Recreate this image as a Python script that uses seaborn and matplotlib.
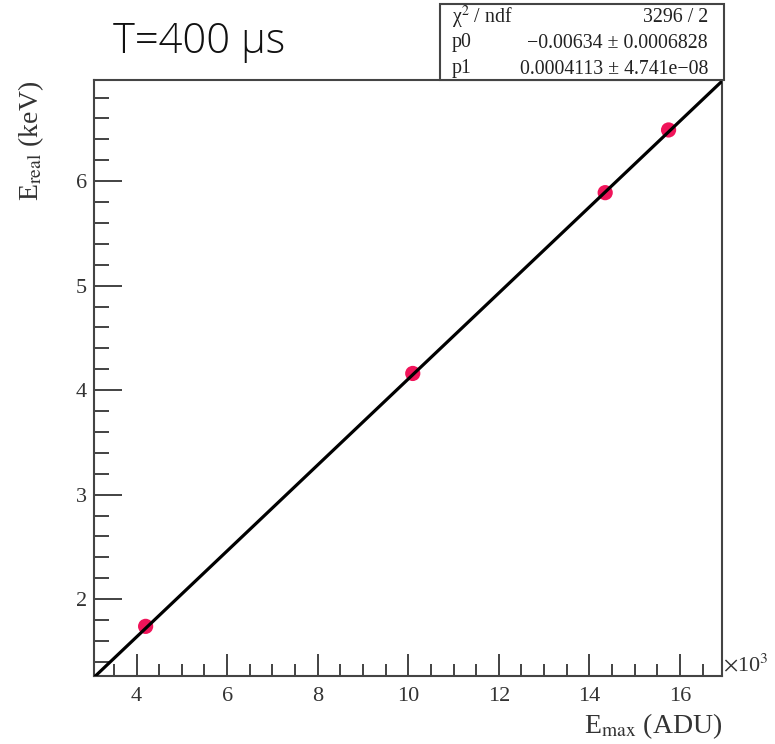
import numpy as np
import pandas as pd
import matplotlib
matplotlib.use("Agg")
import matplotlib.pyplot as plt
from matplotlib.ticker import MultipleLocator, FuncFormatter
from matplotlib.patches import Rectangle
import seaborn as sns

# Data (E_max in ADU, E_real in keV)
e_max = [4200, 10100, 14350, 15750]
e_real = [1.74, 4.16, 5.89, 6.49]
p0 = -0.00634
p1 = 0.0004113
stats_labels = ["\u03c7$^2$ / ndf", "p0", "p1"]
stats_values = ["3296 / 2", "\u22120.00634 \u00b1 0.0006828", "0.0004113 \u00b1 4.741e\u221208"]
title = "T=400 \u00b5s"

sns.set_theme(style="white")
plt.rcParams["font.family"] = ["Liberation Serif", "DejaVu Serif"]
plt.rcParams["mathtext.fontset"] = "stix"

fig = plt.figure(figsize=(7.75, 7.44), dpi=100)
ax = fig.add_axes([94/775, 1-676/744, (722-94)/775, (676-80)/744])

xmin, xmax = 3060, 16930
ymin, ymax = 1.265, 6.968

df = pd.DataFrame({"x": e_max, "y": e_real})
xs = np.linspace(xmin, xmax, 200)
fit = pd.DataFrame({"x": xs, "y": p0 + p1 * xs})

sns.lineplot(data=fit, x="x", y="y", ax=ax, color="black", linewidth=2.3, zorder=3)
sns.scatterplot(data=df, x="x", y="y", ax=ax, color="#f0145a", s=120,
                edgecolor="none", zorder=2)

ax.set_xlim(xmin, xmax)
ax.set_ylim(ymin, ymax)

ax.xaxis.set_major_locator(MultipleLocator(2000))
ax.xaxis.set_minor_locator(MultipleLocator(500))
ax.yaxis.set_major_locator(MultipleLocator(1))
ax.yaxis.set_minor_locator(MultipleLocator(0.2))
ax.xaxis.set_major_formatter(FuncFormatter(lambda v, p: f"{v/1000:g}"))
ax.yaxis.set_major_formatter(FuncFormatter(lambda v, p: f"{v:g}"))

ax.tick_params(axis="both", which="both", direction="in", color="#222222",
               labelsize=16, top=False, right=False, bottom=True, left=True)
ax.tick_params(axis="x", which="major", length=16, width=1.2, pad=8)
ax.tick_params(axis="x", which="minor", length=9, width=1.2)
ax.tick_params(axis="y", which="major", length=20, width=1.2, pad=5)
ax.tick_params(axis="y", which="minor", length=11, width=1.2)
for lab in ax.get_xticklabels() + ax.get_yticklabels():
    lab.set_color("#333333")

for s in ax.spines.values():
    s.set_color("#444444")
    s.set_linewidth(1.5)

ax.set_xlabel("")
ax.set_ylabel("")
fig.text(722/775, 1-726/744, r"E$_{\mathrm{max}}$ (ADU)", ha="right", va="center",
         fontsize=20, color="#333333")
fig.text(31/775, 1-141/744, r"E$_{\mathrm{real}}$ (keV)", ha="center", va="center",
         rotation=90, fontsize=20, color="#333333")
fig.text(723/775, 1-665/744, r"$\times$10$^{3}$", ha="left", va="center",
         fontsize=16, color="#333333")

fig.text(113/775, 1-42/744, title, ha="left", va="center", fontsize=30,
         family=["Open Sans", "DejaVu Sans"], fontweight="light", color="#111111")

# stats box
bx0, bx1, by0, by1 = 440, 724, 4, 80
fig.patches.append(Rectangle((bx0/775, 1-by1/744), (bx1-bx0)/775, (by1-by0)/744,
                             transform=fig.transFigure, facecolor="white",
                             edgecolor="#444444", linewidth=1.5, zorder=5))
rows_y = [17, 43, 69]
for lab, val, ry in zip(stats_labels, stats_values, rows_y):
    fig.text(452/775, 1-ry/744, lab, ha="left", va="center", fontsize=14.3,
             color="#222222", zorder=6)
    fig.text(708/775, 1-ry/744, val, ha="right", va="center", fontsize=14.3,
             color="#222222", zorder=6)

fig.savefig("out.png", dpi=100, facecolor="white")
